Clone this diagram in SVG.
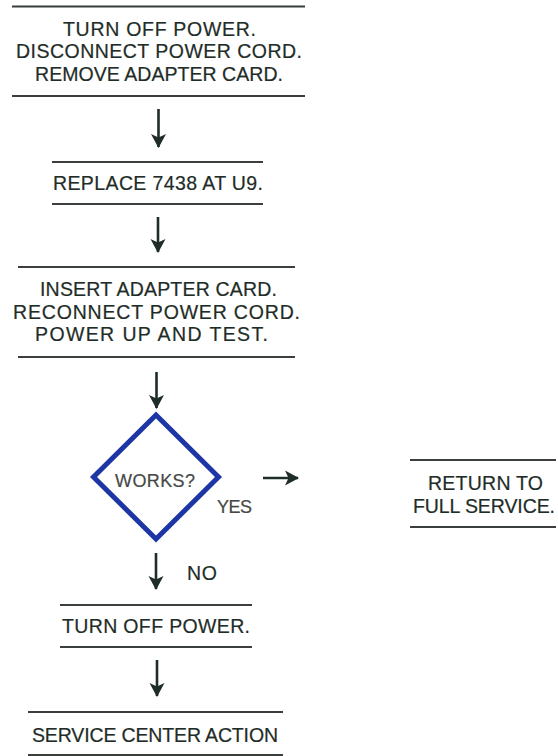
<svg xmlns="http://www.w3.org/2000/svg" width="558" height="756" viewBox="0 0 558 756">
<defs>
<style>
.t{font-family:"Liberation Sans",Arial,sans-serif;font-size:19.5px;fill:#1f2d28;stroke:#1f2d28;stroke-width:0.2;}
.s{font-size:18px;fill:#454845;stroke:#454845;}
.r{stroke:#3a3f3c;stroke-width:2;fill:none;}
.c{stroke:#1f2d28;stroke-width:2.6;fill:none;marker-end:url(#ah);}
</style>
<marker id="ah" markerWidth="16" markerHeight="16" refX="13" refY="8" orient="auto" markerUnits="userSpaceOnUse">
<path d="M0,0.5 L14,8 L0,15.5 L3.5,8 Z" fill="#1f2d28"/>
</marker>
</defs>
<rect width="558" height="756" fill="#ffffff"/>
<g id="box1">
<line class="r" x1="12" y1="6.5" x2="305" y2="6.5"/>
<line class="r" x1="12" y1="96" x2="305" y2="96"/>
<text class="t" x="63" y="35.5" textLength="193" lengthAdjust="spacing">TURN OFF POWER.</text>
<text class="t" x="16" y="58" textLength="286" lengthAdjust="spacing">DISCONNECT POWER CORD.</text>
<text class="t" x="35" y="80.5" textLength="248" lengthAdjust="spacing">REMOVE ADAPTER CARD.</text>
</g>
<g id="box2">
<line class="r" x1="52" y1="162" x2="263" y2="162"/>
<line class="r" x1="52" y1="204" x2="263" y2="204"/>
<text class="t" x="53" y="189.5" textLength="210" lengthAdjust="spacing">REPLACE 7438 AT U9.</text>
</g>
<g id="box3">
<line class="r" x1="18" y1="267" x2="295" y2="267"/>
<line class="r" x1="18" y1="357" x2="295" y2="357"/>
<text class="t" x="40" y="296" textLength="237" lengthAdjust="spacing">INSERT ADAPTER CARD.</text>
<text class="t" x="13" y="318.5" textLength="287" lengthAdjust="spacing">RECONNECT POWER CORD.</text>
<text class="t" x="35" y="341" textLength="233" lengthAdjust="spacing">POWER UP AND TEST.</text>
</g>
<g id="decision">
<polygon points="156,415 218.5,477 156,539 93.5,477" fill="none" stroke="#1d35a5" stroke-width="5" stroke-linejoin="miter"/>
<text class="t s" x="115" y="486.5" textLength="80" lengthAdjust="spacing">WORKS?</text>
</g>
<g id="box4">
<line class="r" x1="410" y1="460" x2="556" y2="460"/>
<line class="r" x1="410" y1="527" x2="556" y2="527"/>
<text class="t" x="428" y="490" textLength="115" lengthAdjust="spacing">RETURN TO</text>
<text class="t" x="413" y="512.5" textLength="142" lengthAdjust="spacing">FULL SERVICE.</text>
</g>
<g id="box5">
<line class="r" x1="60" y1="605" x2="252" y2="605"/>
<line class="r" x1="60" y1="647" x2="252" y2="647"/>
<text class="t" x="62" y="633" textLength="188" lengthAdjust="spacing">TURN OFF POWER.</text>
</g>
<g id="box6">
<line class="r" x1="28" y1="712" x2="283" y2="712"/>
<line class="r" x1="28" y1="755" x2="283" y2="755"/>
<text class="t" x="32" y="742" textLength="246" lengthAdjust="spacing">SERVICE CENTER ACTION</text>
</g>
<g id="connectors">
<line class="c" x1="158.5" y1="109" x2="158.5" y2="147"/>
<line class="c" x1="158" y1="217" x2="158" y2="252"/>
<line class="c" x1="156.5" y1="372" x2="156.5" y2="408"/>
<line class="c" x1="263" y1="478" x2="298" y2="478"/>
<line class="c" x1="156" y1="553" x2="156" y2="589"/>
<line class="c" x1="157" y1="660" x2="157" y2="696"/>
<text class="t s" x="217" y="513" textLength="35" lengthAdjust="spacing">YES</text>
<text class="t" x="187" y="580" textLength="30" lengthAdjust="spacing">NO</text>
</g>
</svg>
